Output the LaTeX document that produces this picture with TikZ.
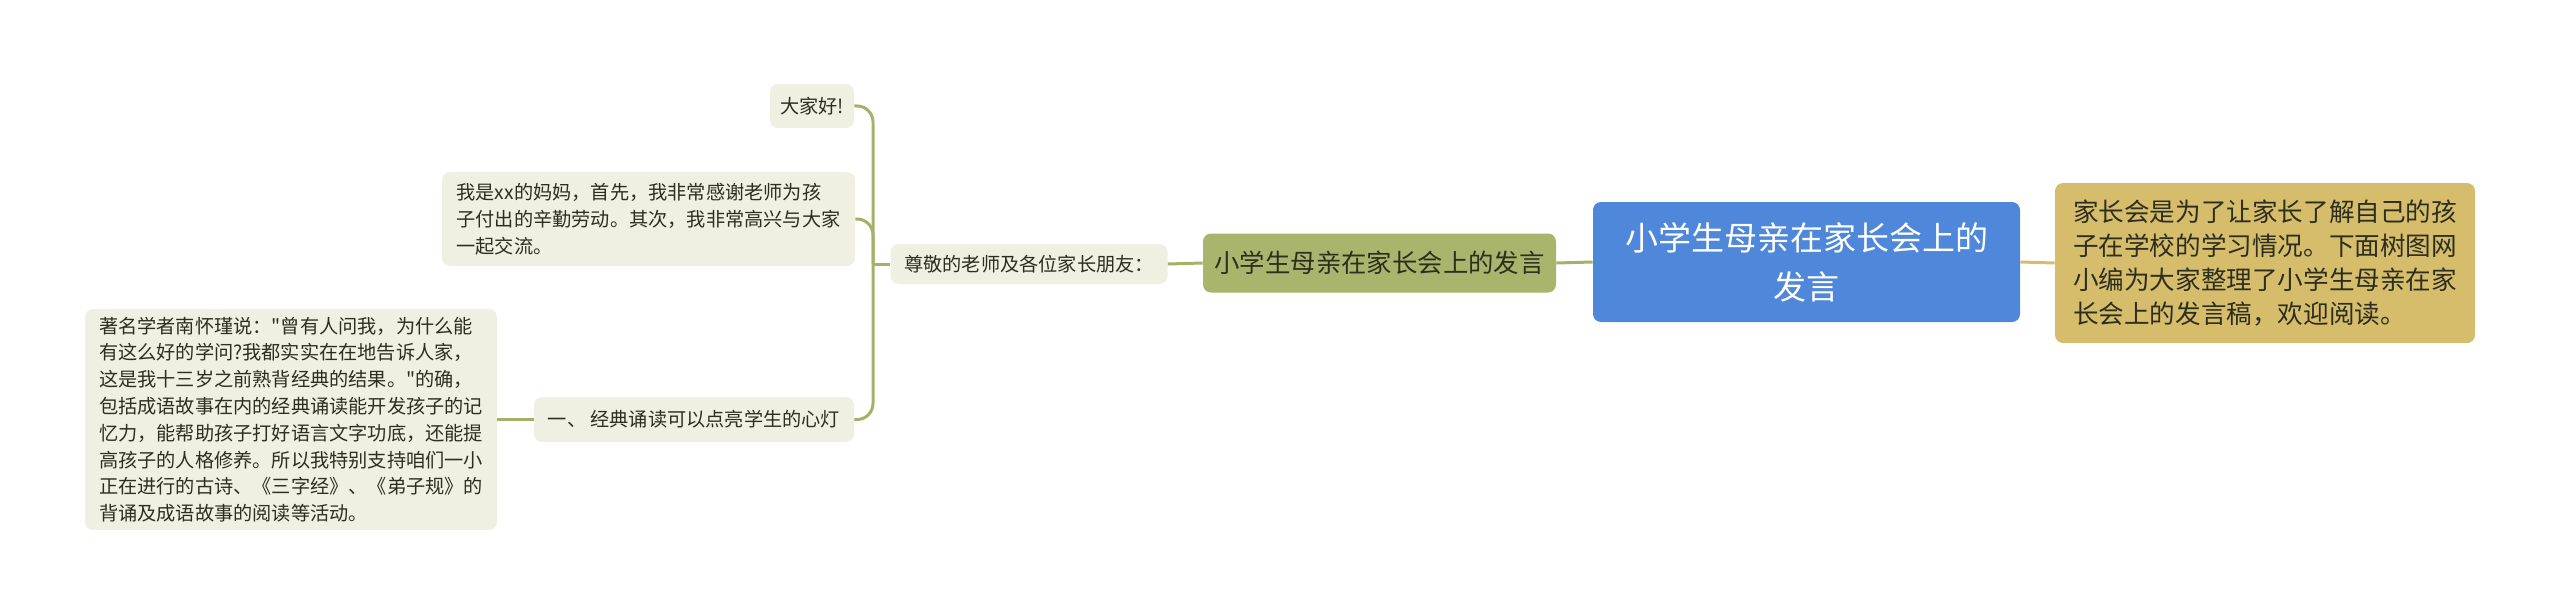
\documentclass[tikz,border=0pt]{standalone}
\usepackage{fontspec}
\setmainfont{Noto Sans CJK SC}[Ligatures=TeXOff]

\definecolor{rootblue}{HTML}{4F87DA}
\definecolor{notegold}{HTML}{D5BD6C}
\definecolor{topicgreen}{HTML}{A9B56C}
\definecolor{leafgray}{HTML}{EFEFE2}
\definecolor{linkgreen}{HTML}{A5B168}
\definecolor{inkdark}{HTML}{2E2E1E}

\tikzset{
  leaf/.style={fill=leafgray, font=\fontsize{9.6}{13.4}\selectfont},
  link/.style={draw=linkgreen, line width=1.5pt},
}

\begin{document}
\begin{tikzpicture}[x=0.5pt,y=-0.5pt]
      \useasboundingbox (0,0) rectangle (2560,615);

      \begin{scope}[every node/.style={rounded corners=4pt, inner sep=0pt, align=left, text=inkdark}]
        \node[fill=rootblue, text=white, align=center, minimum width=213.5pt, minimum height=60pt,
              font=\fontsize{16.5}{24.5}\selectfont] (root) at (1806.5,262)
              {小学生母亲在家长会上的\\发言};
        \node[fill=notegold, minimum width=210pt, minimum height=80pt,
              font=\fontsize{12.8}{17.1}\selectfont] (note) at (2265,263)
              {家长会是为了让家长了解自己的孩\\子在学校的学习情况。下面树图网\\小编为大家整理了小学生母亲在家\\长会上的发言稿，欢迎阅读。};
        \node[fill=topicgreen, minimum width=176.5pt, minimum height=29.5pt,
              font=\fontsize{12.7}{16}\selectfont] (topic) at (1379.5,263)
              {小学生母亲在家长会上的发言};
        \node[leaf, minimum width=138.5pt, minimum height=20pt] (greet) at (1029,264)
              {尊敬的老师及各位家长朋友：};
        \node[leaf, minimum width=42pt, minimum height=22pt] (hello) at (812,106)
              {大家好!};
        \node[leaf, minimum width=206.5pt, minimum height=47pt] (intro) at (648.5,219)
              {我是xx的妈妈，首先，我非常感谢老师为孩\\子付出的辛勤劳动。其次，我非常高兴与大家\\一起交流。};
        \node[leaf, minimum width=160pt, minimum height=22.5pt] (classic) at (694,419.5)
              {一、 经典诵读可以点亮学生的心灯};
        \node[leaf, minimum width=206pt, minimum height=110.5pt] (quote) at (291,419.5)
              {著名学者南怀瑾说："曾有人问我，为什么能\\有这么好的学问?我都实实在在地告诉人家，\\这是我十三岁之前熟背经典的结果。"的确，\\包括成语故事在内的经典诵读能开发孩子的记\\忆力，能帮助孩子打好语言文字功底，还能提\\高孩子的人格修养。所以我特别支持咱们一小\\正在进行的古诗、《三字经》、《弟子规》的\\背诵及成语故事的阅读等活动。};
      \end{scope}

      \coordinate (trunk) at (873,264);

      \draw[link, draw=notegold] (root.east) -- (note.west);
      \draw[link] (topic.east) -- (root.west);
      \draw[link] (greet.east) -- (topic.west);
      \draw[link] (greet.west) -- (trunk);
      \draw[link, rounded corners=8pt] (trunk) |- (hello.east);
      \draw[link, rounded corners=8pt] (trunk) |- (intro.east);
      \draw[link, rounded corners=8pt] (trunk) |- (classic.east);
      \draw[link] (classic.west) -- (quote.east);

    \end{tikzpicture}
\end{document}
